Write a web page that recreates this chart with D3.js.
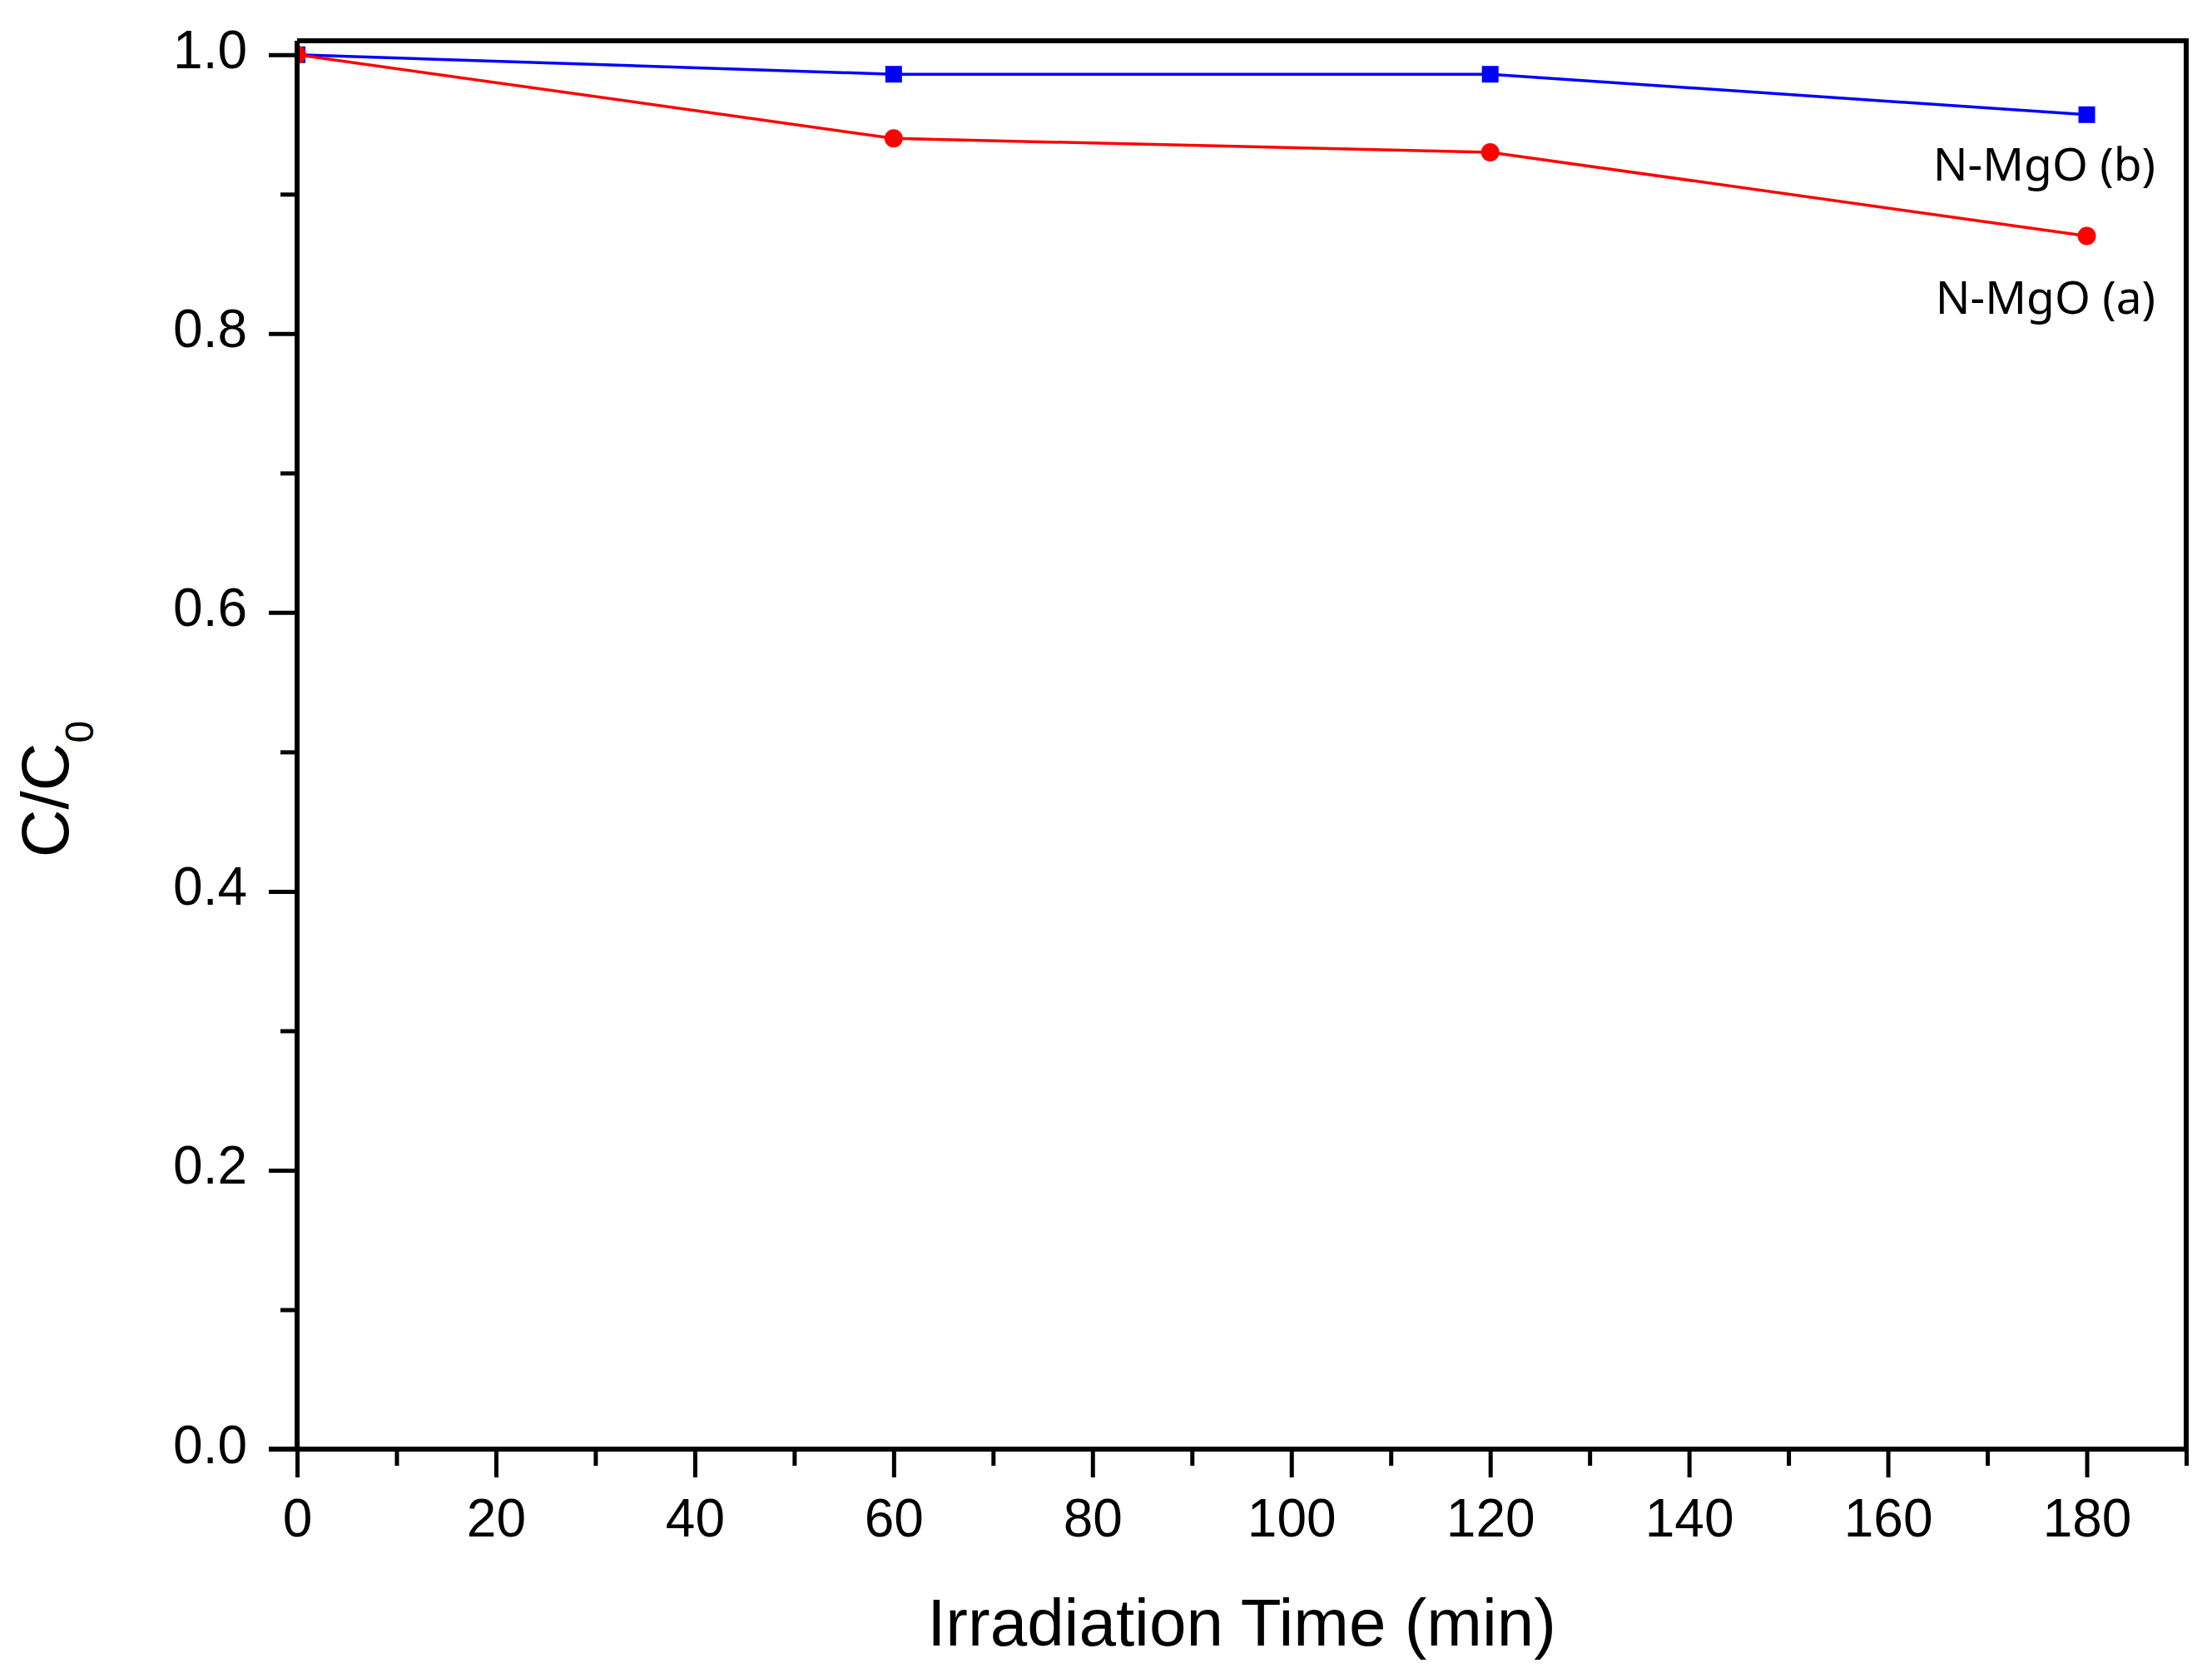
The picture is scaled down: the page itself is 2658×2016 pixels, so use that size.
<!DOCTYPE html>
<html>
<head>
<meta charset="utf-8">
<script src="https://cdn.jsdelivr.net/npm/d3@7"></script>
<style>
  html, body { margin: 0; padding: 0; background: #fff; }
  svg { display: block; }
  .tick text { font-family: "Liberation Sans", Arial, sans-serif; font-size: 64px; fill: #000; }
</style>
</head>
<body>
<div id="chart"></div>
<script>
// irradiation time (min)
const times = [0, 60, 120, 180];
// C/C0 for each sample
const mgoA = [1.0, 0.94, 0.93, 0.87];
const mgoB = [1.0, 0.986, 0.986, 0.957];
const seriesNames = ["N-MgO (a)", "N-MgO (b)"];
const xMajor = [0, 20, 40, 60, 80, 100, 120, 140, 160, 180];
const xMinor = [10, 30, 50, 70, 90, 110, 130, 150, 170, 190];
const yMajor = [0, 0.2, 0.4, 0.6, 0.8, 1.0];
const yMinor = [0.1, 0.3, 0.5, 0.7, 0.9];

const width = 2658, height = 2016;
const plotLeft = 357, plotRight = 2627, plotTop = 49, plotBottom = 1741;

const svg = d3
  .select("#chart")
  .append("svg")
  .attr("width", width)
  .attr("height", height);

const x = d3.scaleLinear().domain([0, 190]).range([plotLeft, plotRight]);
const y = d3.scaleLinear().domain([0, 1.01]).range([plotBottom, plotTop]);

svg.append("defs").append("clipPath").attr("id", "plot")
  .append("rect")
  .attr("x", plotLeft).attr("y", plotTop - 20)
  .attr("width", plotRight - plotLeft + 20).attr("height", plotBottom - plotTop + 20);

// frame (top + right)
svg.append("path")
  .attr("d", `M${plotLeft},${plotTop}H${plotRight}V${plotBottom}`)
  .attr("fill", "none")
  .attr("stroke", "#000")
  .attr("stroke-width", 6);

// lines
const lineGen = (vals) => d3.line()
  .x((d, i) => x(times[i]))
  .y((d) => y(d))(vals);

const plot = svg.append("g").attr("clip-path", "url(#plot)");

plot.append("path")
  .attr("d", lineGen(mgoB))
  .attr("fill", "none")
  .attr("stroke", "#0000ff")
  .attr("stroke-width", 3.5);

plot.selectAll(".sq")
  .data(mgoB)
  .enter()
  .append("rect")
  .attr("x", (d, i) => x(times[i]) - 10)
  .attr("y", (d) => y(d) - 10)
  .attr("width", 20)
  .attr("height", 20)
  .attr("fill", "#0000ff");

plot.append("path")
  .attr("d", lineGen(mgoA))
  .attr("fill", "none")
  .attr("stroke", "#ff0000")
  .attr("stroke-width", 3.5);

plot.selectAll(".dot")
  .data(mgoA)
  .enter()
  .append("circle")
  .attr("cx", (d, i) => x(times[i]))
  .attr("cy", (d) => y(d))
  .attr("r", 11)
  .attr("fill", "#ff0000");

// axes
const xAxis = svg.append("g")
  .attr("transform", `translate(0,${plotBottom})`)
  .call(d3.axisBottom(x).tickValues(xMajor).tickSize(34).tickPadding(26).tickFormat(d3.format("d")));
const xMinorAxis = svg.append("g")
  .attr("transform", `translate(0,${plotBottom})`)
  .call(d3.axisBottom(x).tickValues(xMinor).tickSize(20).tickFormat(""));

const yAxis = svg.append("g")
  .attr("transform", `translate(${plotLeft},0)`)
  .call(d3.axisLeft(y).tickValues(yMajor).tickSize(34).tickPadding(26).tickFormat(d3.format(".1f")));
const yMinorAxis = svg.append("g")
  .attr("transform", `translate(${plotLeft},0)`)
  .call(d3.axisLeft(y).tickValues(yMinor).tickSize(20).tickFormat(""));

[xAxis, xMinorAxis].forEach((a) => {
  a.select(".domain").attr("stroke", "#000").attr("stroke-width", 6)
    .attr("d", `M${plotLeft - 34},0H${plotRight}`);
  a.selectAll(".tick line").attr("stroke", "#000").attr("stroke-width", 5);
});
[yAxis, yMinorAxis].forEach((a) => {
  a.select(".domain").attr("stroke", "#000").attr("stroke-width", 6)
    .attr("d", `M0,${plotBottom}V${plotTop}`);
  a.selectAll(".tick line").attr("stroke", "#000").attr("stroke-width", 5);
});
yAxis.selectAll(".tick text").attr("dy", "0.25em");

// axis titles
svg.append("text")
  .attr("x", (plotLeft + plotRight) / 2)
  .attr("y", 1977)
  .attr("text-anchor", "middle")
  .attr("font-family", "Liberation Sans, Arial, sans-serif")
  .attr("font-size", 80)
  .text("Irradiation Time (min)");

const yTitle = svg.append("text")
  .attr("transform", "translate(82,948) rotate(-90)")
  .attr("text-anchor", "middle")
  .attr("font-family", "Liberation Sans, Arial, sans-serif")
  .attr("font-size", 80);
yTitle.append("tspan").text("C/C");
yTitle.append("tspan").attr("font-size", 48).attr("dy", 30).text("0");

// series labels
const labelPos = [
  { name: seriesNames[1], yy: 217 },
  { name: seriesNames[0], yy: 377 }
];
svg.selectAll(".lbl")
  .data(labelPos)
  .enter()
  .append("text")
  .attr("x", 2590)
  .attr("y", (d) => d.yy)
  .attr("text-anchor", "end")
  .attr("font-family", "Noto Sans, Open Sans, sans-serif")
  .attr("font-size", 55)
  .text((d) => d.name);
</script>
</body>
</html>
